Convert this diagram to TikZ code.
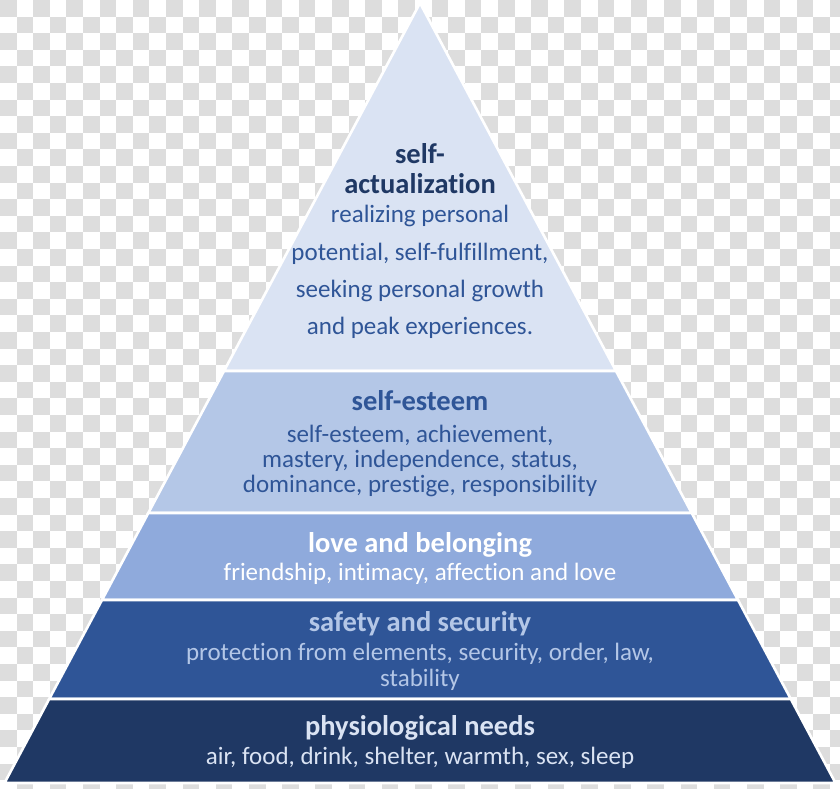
\documentclass[tikz,border=0pt]{standalone}
\usepackage{fontspec}
\setmainfont[Ligatures=NoCommon]{Carlito}
\definecolor{checkgray}{RGB}{221,221,221}
\definecolor{tierA}{RGB}{218,227,243}
\definecolor{tierB}{RGB}{180,199,231}
\definecolor{tierC}{RGB}{143,170,220}
\definecolor{tierD}{RGB}{47,85,151}
\definecolor{tierE}{RGB}{31,56,100}
\definecolor{txtdark}{RGB}{31,56,100}
\definecolor{txtmid}{RGB}{47,85,151}
\definecolor{txtlight}{RGB}{218,227,243}
\definecolor{txtpale}{RGB}{180,199,231}
\begin{document}
\begin{tikzpicture}[x=1pt,y=-1pt,
  tier/.style={draw=white,line width=2.6pt,line join=miter},
  ttl/.style={anchor=base,inner sep=0pt,font=\fontsize{28.5}{28.5}\selectfont\bfseries},
  body/.style={anchor=base,inner sep=0pt,font=\fontsize{25}{25}\selectfont}]
\useasboundingbox (0,0) rectangle (840,788);
\fill[white] (0,0) rectangle (840,788);
\foreach \i in {0,...,50}{
  \foreach \j in {0,...,47}{
    \pgfmathparse{int(mod(\i+\j,2))}
    \ifnum\pgfmathresult=0
      \fill[checkgray] ({\i*16.6},{\j*16.6}) rectangle ({\i*16.6+16.6},{\j*16.6+16.6});
    \fi
  }
}
% tiers
\filldraw[tier,fill=tierA] (420,3) -- (616,371) -- (224,371) -- cycle;
\filldraw[tier,fill=tierB] (224,371) -- (616,371) -- (691.7,513) -- (148.3,513) -- cycle;
\filldraw[tier,fill=tierC] (148.3,513) -- (691.7,513) -- (738,600) -- (102,600) -- cycle;
\filldraw[tier,fill=tierD] (102,600) -- (738,600) -- (790.8,699) -- (49.2,699) -- cycle;
\filldraw[tier,fill=tierE] (49.2,699) -- (790.8,699) -- (835.5,783) -- (4.5,783) -- cycle;
% self-actualization
\node[ttl,text=txtdark] (sa1) at (420,163) {self-};
\node[ttl,text=txtdark] (sa2) at (420,193) {actualization};
\node[body,text=txtmid] (sa3) at (420,222) {realizing personal};
\node[body,text=txtmid] (sa4) at (420,260) {potential, self-fulfillment,};
\node[body,text=txtmid] (sa5) at (420,297) {seeking personal growth};
\node[body,text=txtmid] (sa6) at (420,334) {and peak experiences.};
% self-esteem
\node[ttl,text=txtmid] (se1) at (420,410) {self-esteem};
\node[body,text=txtmid] (se2) at (420,442) {self-esteem, achievement,};
\node[body,text=txtmid] (se3) at (420,467) {mastery, independence, status,};
\node[body,text=txtmid] (se4) at (420,492) {dominance, prestige, responsibility};
% love
\node[ttl,text=white] (lb1) at (420,552) {love and belonging};
\node[body,text=white] (lb2) at (420,580) {friendship, intimacy, affection and love};
% safety
\node[ttl,text=txtpale] (ss1) at (420,631) {safety and security};
\node[body,text=txtpale] (ss2) at (420,660) {protection from elements, security, order, law,};
\node[body,text=txtpale] (ss3) at (420,686) {stability};
% physiological
\node[ttl,text=txtlight] (pn1) at (420,735) {physiological needs};
\node[body,text=txtlight] (pn2) at (420,764) {air, food, drink, shelter, warmth, sex, sleep};
\end{tikzpicture}
\end{document}
